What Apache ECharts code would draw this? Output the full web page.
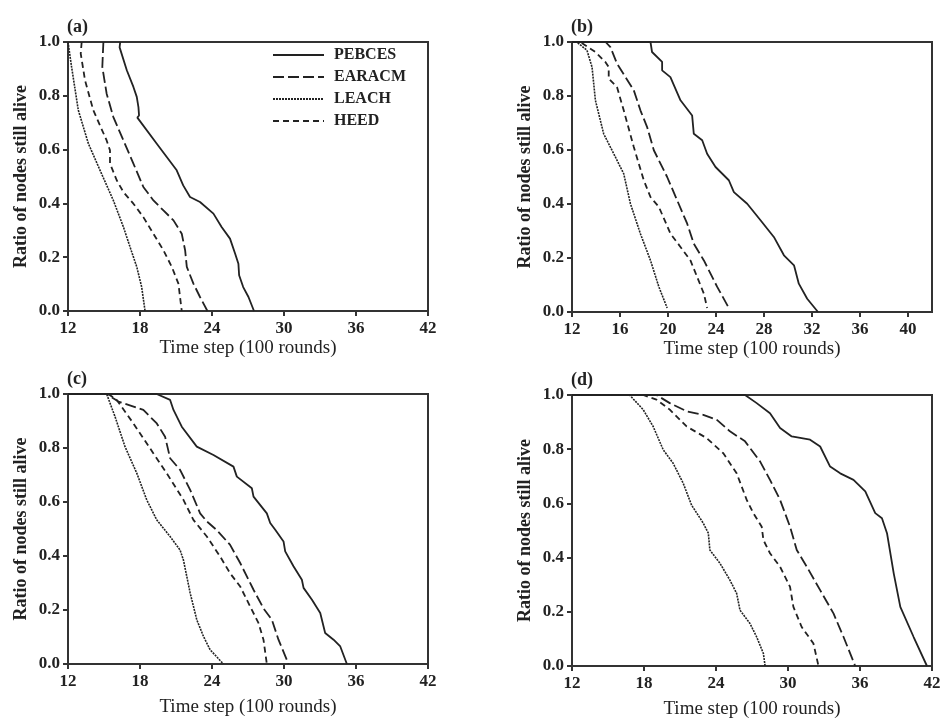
<!DOCTYPE html>
<html>
<head>
<meta charset="utf-8">
<title>Ratio of nodes still alive</title>
<script src="https://cdn.jsdelivr.net/npm/echarts@6/dist/echarts.min.js"></script>
<style>
  html, body { margin: 0; padding: 0; background: #fff; }
  #chart { width: 945px; height: 721px; }
</style>
</head>
<body>
<div id="chart"></div>
<script>
// series names (legend order) and panel labels
var SERIES_NAMES = ['PEBCES', 'EARACM', 'LEACH', 'HEED'];
var PANEL_LABELS = ['(a)', '(b)', '(c)', '(d)'];
var X_TICKS_B = [12, 16, 20, 24, 28, 32, 36, 40];

// (a)  [time step, ratio alive]
var aPebces = [[16.35,1],[16.3,0.98],[16.9,0.895],[17.45,0.833],[17.73,0.796],[17.87,0.758],[17.92,0.727],[17.78,0.719],[19.4,0.622],[21.06,0.523],[21.6,0.467],[22.17,0.424],[23.0,0.405],[24.12,0.362],[24.8,0.312],[25.5,0.269],[25.93,0.213],[26.2,0.176],[26.26,0.133],[26.6,0.089],[27.04,0.052],[27.5,0]];
var aEaracm = [[14.95,1],[14.9,0.95],[14.86,0.907],[15.22,0.808],[15.78,0.721],[16.62,0.634],[17.45,0.548],[18.28,0.461],[19.12,0.411],[19.95,0.374],[20.79,0.337],[21.48,0.287],[21.76,0.226],[21.9,0.164],[22.45,0.102],[23.0,0.052],[23.62,0]];
var aLeach = [[12,1],[12.3,0.907],[12.86,0.746],[13.7,0.622],[14.67,0.523],[15.78,0.411],[16.62,0.312],[17.17,0.238],[17.73,0.164],[18.14,0.089],[18.42,0]];
var aHeed = [[13.14,1],[13.06,0.957],[13.42,0.857],[14.11,0.746],[15.22,0.634],[15.5,0.597],[15.5,0.548],[16.06,0.486],[16.62,0.442],[17.45,0.399],[18.28,0.349],[19.12,0.287],[19.95,0.226],[20.65,0.164],[21.2,0.102],[21.48,0]];

// (b)
var bPebces = [[12,1],[18.54,1],[18.67,0.963],[19.51,0.926],[19.51,0.895],[20.2,0.87],[21.04,0.784],[22.01,0.728],[22.15,0.66],[22.85,0.636],[23.26,0.586],[23.96,0.537],[25.07,0.488],[25.49,0.444],[26.6,0.401],[27.71,0.34],[28.82,0.278],[29.66,0.21],[30.5,0.173],[30.9,0.105],[31.6,0.049],[32.5,0]];
var bEaracm = [[12,1],[14.8,1],[15.2,0.981],[15.75,0.92],[17.15,0.821],[17.7,0.747],[18.26,0.685],[18.82,0.599],[19.93,0.5],[20.76,0.414],[21.6,0.327],[22.15,0.253],[22.99,0.191],[24.1,0.093],[25.07,0.015]];
var bLeach = [[12,1],[12.4,1],[13.25,0.969],[13.67,0.907],[13.95,0.784],[14.64,0.66],[15.48,0.586],[16.31,0.512],[16.87,0.401],[17.7,0.29],[18.54,0.191],[19.24,0.093],[19.93,0.015]];
var bHeed = [[12,1],[12.7,1],[13.95,0.963],[14.78,0.926],[15.06,0.907],[15.06,0.864],[15.75,0.833],[16.31,0.747],[17.15,0.611],[17.98,0.488],[18.54,0.426],[19.24,0.389],[20.21,0.29],[21.04,0.241],[21.87,0.191],[22.99,0.068],[23.26,0.015]];

// (c)
var cPebces = [[12,1],[19.39,1],[20.51,0.978],[20.79,0.941],[21.48,0.879],[22.73,0.805],[24.12,0.774],[25.79,0.731],[26.07,0.694],[27.32,0.651],[27.46,0.62],[28.57,0.558],[28.85,0.522],[29.27,0.497],[29.96,0.454],[30.1,0.417],[30.79,0.362],[31.49,0.312],[31.63,0.282],[32.33,0.238],[33.02,0.189],[33.43,0.115],[34.13,0.09],[34.69,0.065],[35.24,0]];
var cEaracm = [[12,1],[15.22,1],[16.2,0.972],[18.28,0.941],[19.4,0.891],[20.09,0.842],[20.51,0.762],[21.34,0.719],[22.18,0.645],[23.01,0.558],[23.57,0.528],[24.4,0.496],[25.51,0.441],[26.35,0.374],[27.46,0.275],[28.29,0.206],[28.99,0.164],[29.54,0.09],[30.38,0]];
var cLeach = [[12,1],[15.22,1],[15.92,0.916],[16.75,0.805],[17.73,0.707],[18.56,0.608],[19.39,0.534],[20.51,0.472],[21.34,0.422],[21.62,0.385],[22.18,0.263],[22.73,0.164],[23.29,0.102],[23.84,0.053],[24.95,0]];
var cHeed = [[12,1],[15.36,1],[16.06,0.978],[17.45,0.891],[19.12,0.78],[20.23,0.706],[21.62,0.608],[22.45,0.534],[23.57,0.472],[24.68,0.398],[25.51,0.336],[26.35,0.287],[27.18,0.213],[27.87,0.152],[28.29,0.09],[28.57,0]];

// (d)
var dPebces = [[12,1],[26.42,1],[27.39,0.97],[28.5,0.933],[29.34,0.878],[30.31,0.847],[31.84,0.835],[32.68,0.81],[33.51,0.736],[34.35,0.711],[35.46,0.687],[36.44,0.644],[37.27,0.564],[37.83,0.545],[38.25,0.49],[38.81,0.342],[39.36,0.218],[40.47,0.107],[41.58,0]];
var dEaracm = [[12,1],[19.04,1],[20.15,0.97],[21.55,0.94],[22.94,0.927],[24.05,0.909],[25.16,0.866],[26.42,0.829],[27.67,0.755],[28.5,0.687],[29.34,0.613],[30.17,0.514],[30.73,0.428],[31.57,0.366],[32.68,0.28],[33.79,0.194],[34.63,0.107],[35.6,0]];
var dLeach = [[12,1],[16.8,1],[17.93,0.946],[18.76,0.884],[19.6,0.798],[20.43,0.748],[21.27,0.674],[21.96,0.594],[22.94,0.527],[23.36,0.49],[23.49,0.428],[24.33,0.379],[25.16,0.317],[25.72,0.268],[26.0,0.206],[26.83,0.157],[27.39,0.107],[27.95,0.046],[28.09,0]];
var dHeed = [[12,1],[17.93,1],[19.04,0.983],[20.15,0.946],[21.55,0.884],[23.22,0.841],[24.61,0.785],[25.72,0.711],[26.56,0.613],[27.11,0.564],[27.81,0.514],[27.95,0.465],[28.5,0.416],[29.34,0.366],[30.17,0.292],[30.45,0.218],[31.14,0.144],[32.12,0.083],[32.54,0]];

var PANELS = [
  [aPebces, aEaracm, aLeach, aHeed],
  [bPebces, bEaracm, bLeach, bHeed],
  [cPebces, cEaracm, cLeach, cHeed],
  [dPebces, dEaracm, dLeach, dHeed]
];

(function () {
  var FONT = 'Liberation Serif';
  var INK = '#222';
  var AXIS = '#333';

  // line look for each series, same order as SERIES_NAMES
  var LINE_TYPES = ['solid', [11, 4], [2, 1], [6, 4]];
  var LINE_WIDTHS = [1.8, 1.8, 1.6, 1.8];

  // plot boxes; the bottom row has its x name a bit lower
  var grids = [
    { left: 68, top: 42, width: 360, height: 269, nameGap: 28 },
    { left: 572, top: 42, width: 360, height: 270, nameGap: 28 },
    { left: 68, top: 394, width: 360, height: 270, nameGap: 34 },
    { left: 572, top: 395, width: 360, height: 271, nameGap: 34 }
  ];

  var option = {
    backgroundColor: '#fff',
    animation: false,
    title: [],
    grid: [],
    xAxis: [],
    yAxis: [],
    series: [],
    legend: {   // only drawn once, inside panel (a)
      data: SERIES_NAMES,
      orient: 'vertical',
      left: 267,
      top: 42,
      itemWidth: 51,
      itemHeight: 14,
      itemGap: 6,
      itemStyle: { opacity: 0 },   // hide the symbol, keep the dashed line
      textStyle: { fontFamily: FONT, fontSize: 16, fontWeight: 'bold', color: INK, padding: [0, 0, 0, 5] }
    }
  };

  grids.forEach(function (g, i) {
    option.grid.push({
      left: g.left, top: g.top, width: g.width, height: g.height,
      show: true, borderColor: AXIS, borderWidth: 2, backgroundColor: 'transparent'
    });

    option.title.push({
      text: PANEL_LABELS[i],
      left: g.left - 6,
      top: g.top - 29,
      textStyle: { fontFamily: FONT, fontSize: 18, fontWeight: 'bold', color: INK }
    });

    var xAxis = {
      type: 'value',
      gridIndex: i,
      min: 12,
      max: 42,
      interval: 6,
      name: 'Time step (100 rounds)',
      nameLocation: 'middle',
      nameGap: g.nameGap,
      nameTextStyle: { fontFamily: FONT, fontSize: 19, color: INK },
      axisLine: { lineStyle: { color: AXIS, width: 2 } },
      axisTick: { length: 5, lineStyle: { color: AXIS, width: 2 } },
      axisLabel: { fontFamily: FONT, fontSize: 17, fontWeight: 'bold', color: INK, margin: 9 },
      splitLine: { show: false }
    };
    if (i === 1) { // panel (b) uses a step of 4
      xAxis.axisTick.customValues = X_TICKS_B;
      xAxis.axisLabel.customValues = X_TICKS_B;
    }
    option.xAxis.push(xAxis);

    option.yAxis.push({
      type: 'value',
      gridIndex: i,
      min: 0,
      max: 1,
      interval: 0.2,
      name: 'Ratio of nodes still alive',
      nameLocation: 'middle',
      nameGap: 38,
      nameTextStyle: { fontFamily: FONT, fontSize: 18, fontWeight: 'bold', color: INK },
      axisLine: { lineStyle: { color: AXIS, width: 2 } },
      axisTick: { length: 5, lineStyle: { color: AXIS, width: 2 } },
      axisLabel: {
        fontFamily: FONT, fontSize: 17, fontWeight: 'bold', color: INK, margin: 8,
        formatter: function (v) { return v.toFixed(1); }
      },
      splitLine: { show: false }
    });

    PANELS[i].forEach(function (data, k) {
      option.series.push({
        name: SERIES_NAMES[k],
        type: 'line',
        xAxisIndex: i,
        yAxisIndex: i,
        data: data,
        symbol: 'none',
        showSymbol: false,
        z: 3,
        lineStyle: { color: INK, width: LINE_WIDTHS[k], type: LINE_TYPES[k] },
        itemStyle: { color: INK }
      });
    });
  });

  var myChart = echarts.init(document.getElementById('chart'));
  myChart.setOption(option);
})();
</script>
</body>
</html>
